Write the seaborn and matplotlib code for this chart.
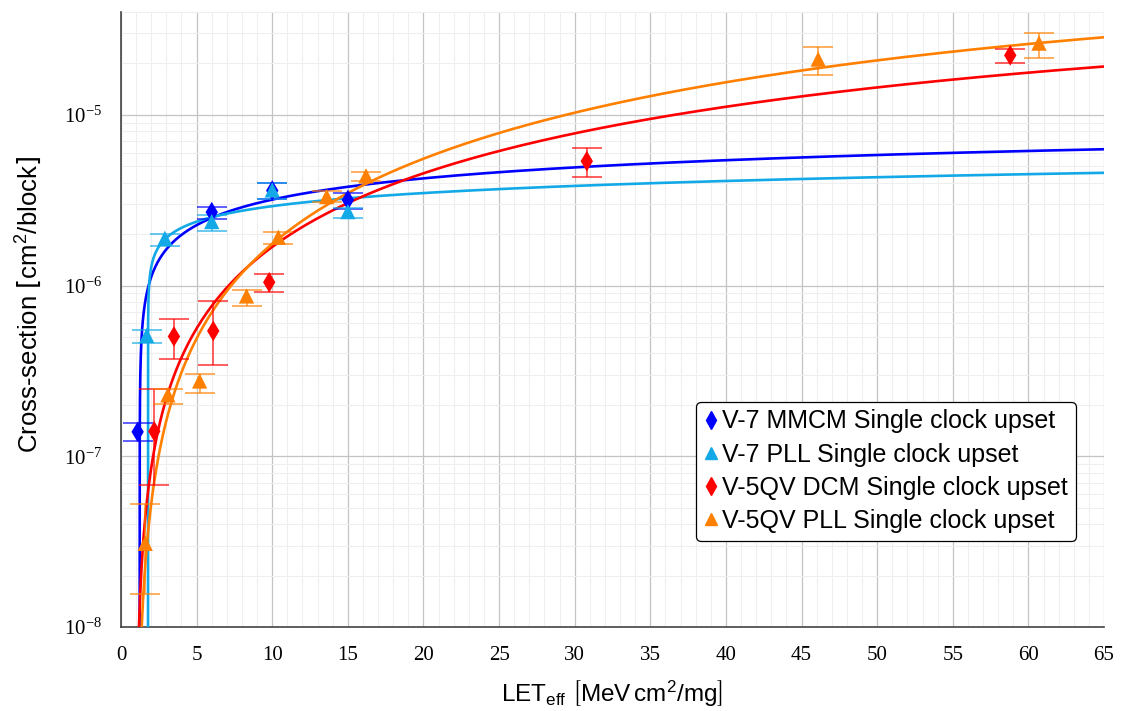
import numpy as np
import pandas as pd
import matplotlib
matplotlib.use("Agg")
import matplotlib.pyplot as plt
import seaborn as sns
from matplotlib.ticker import MultipleLocator, LogLocator, NullFormatter
from matplotlib.lines import Line2D

# ---- measured points (LET, cross-section, lower, upper error) ----
mmcm_x = [1.1, 6.0, 10.0, 15.0]
mmcm_y = [1.39e-7, 2.69e-6, 3.6e-6, 3.17e-6]
mmcm_lo = [1.23e-7, 2.45e-6, 3.2e-6, 2.81e-6]
mmcm_hi = [1.57e-7, 2.90e-6, 4.0e-6, 3.5e-6]

v7pll_x = [1.7, 2.9, 6.0, 10.0, 15.0]
v7pll_y = [5.1e-7, 1.89e-6, 2.37e-6, 3.63e-6, 2.71e-6]
v7pll_lo = [4.63e-7, 1.71e-6, 2.09e-6, 3.2e-6, 2.48e-6]
v7pll_hi = [5.5e-7, 2.0e-6, 2.59e-6, 4.0e-6, 2.84e-6]

dcm_x = [2.2, 3.5, 6.1, 9.8, 30.8, 58.8]
dcm_y = [1.4e-7, 5.03e-7, 5.42e-7, 1.045e-6, 5.35e-6, 2.23e-5]
dcm_lo = [6.8e-8, 3.73e-7, 3.43e-7, 9.2e-7, 4.31e-6, 2.02e-5]
dcm_hi = [2.48e-7, 6.37e-7, 8.1e-7, 1.17e-6, 6.42e-6, 2.44e-5]

v5pll_x = [1.6, 3.1, 5.2, 8.3, 10.4, 13.6, 16.2, 46.1, 60.7]
v5pll_y = [3.09e-8, 2.29e-7, 2.76e-7, 8.69e-7, 1.92e-6, 3.32e-6, 4.39e-6, 2.12e-5, 2.63e-5]
v5pll_lo = [1.56e-8, 2.03e-7, 2.36e-7, 7.6e-7, 1.75e-6, 3.1e-6, 4.1e-6, 1.70e-5, 2.14e-5]
v5pll_hi = [5.28e-8, 2.48e-7, 3.05e-7, 9.4e-7, 2.07e-6, 3.58e-6, 4.65e-6, 2.49e-5, 3.03e-5]

# ---- Weibull fit parameters per series: threshold L0, width W, shape s, saturation ----
fit_L0 = [1.2325, 1.7857, 0.972, 1.032]
fit_W = [63.096, 1.0e6, 91.2, 79.43]
fit_s = [0.48, 0.23, 1.38, 1.58]
fit_sat = [9.9115e-6, 4.459e-5, 4.181e-5, 5.595e-5]

labels = ["V-7 MMCM Single clock upset", "V-7 PLL Single clock upset",
          "V-5QV DCM Single clock upset", "V-5QV PLL Single clock upset"]

sns.set_theme(style="white")
plt.rcParams["font.family"] = ["Liberation Sans", "DejaVu Sans"]
plt.rcParams["mathtext.fontset"] = "dejavusans"
plt.rcParams["text.color"] = "black"
plt.rcParams["axes.labelcolor"] = "black"

fig = plt.figure(figsize=(11.21, 7.11), dpi=100)
ax = fig.add_axes([121 / 1121, 1 - 627 / 711, 983 / 1121, 615 / 711])
ax.set_yscale("log")
ax.set_xlim(0, 65)
ax.set_ylim(1e-8, 4e-5)

colors = ["#0000ff", "#12a9e6", "#ff0000", "#ff8000"]
markers = ["d", "^", "d", "^"]
msizes = [10.5, 11, 10.5, 11]
series = [(mmcm_x, mmcm_y, mmcm_lo, mmcm_hi), (v7pll_x, v7pll_y, v7pll_lo, v7pll_hi),
          (dcm_x, dcm_y, dcm_lo, dcm_hi), (v5pll_x, v5pll_y, v5pll_lo, v5pll_hi)]

for i, ((x, y, lo, hi), c, mk, ms) in enumerate(zip(series, colors, markers, msizes)):
    x = np.array(x); y = np.array(y)
    L0, W, s, S = fit_L0[i], fit_W[i], fit_s[i], fit_sat[i]
    L = np.concatenate([L0 + np.geomspace(1e-12, 2, 1500), np.linspace(L0 + 2, 65, 600)])
    sig = S * (-np.expm1(-((L - L0) / W) ** s))
    sns.lineplot(x=L, y=sig, color=c, lw=1.9, ax=ax, estimator=None, sort=False, zorder=4)
    ax.errorbar(x, y, yerr=[y - np.array(lo), np.array(hi) - y], fmt="none",
                ecolor=c, elinewidth=1.1, capsize=11, capthick=1.1, alpha=0.8, zorder=5)
    df = pd.DataFrame({"L": x, "sigma": y})
    sns.scatterplot(data=df, x="L", y="sigma", marker=mk, s=ms ** 2, color=c,
                    edgecolor="none", ax=ax, zorder=6, legend=False)

ax.xaxis.set_major_locator(MultipleLocator(5))
ax.xaxis.set_minor_locator(MultipleLocator(1))
ax.yaxis.set_major_locator(LogLocator(base=10, numticks=20))
ax.yaxis.set_minor_locator(LogLocator(base=10, subs=np.arange(2, 10), numticks=20))
ax.yaxis.set_minor_formatter(NullFormatter())
ax.tick_params(which="major", direction="out", length=7.5, width=1, color="#444444",
               labelsize=15, labelfontfamily="Liberation Serif", pad=6, labelcolor="black")
ax.tick_params(which="minor", direction="out", length=5, width=0.8, color="#444444")
ax.grid(True, which="major", color="#c4c4c4", lw=0.9)
ax.grid(True, which="minor", color="#efefef", lw=0.8)
ax.set_axisbelow(True)
for sp in ["top", "right"]:
    ax.spines[sp].set_visible(False)
for sp in ["left", "bottom"]:
    ax.spines[sp].set_color("#444444")
    ax.spines[sp].set_linewidth(1.2)

ax.set_xlabel(r"LET$_{\mathdefault{eff}}$ $\left[\mathdefault{MeV\,cm^{2}/mg}\right]$",
              fontsize=17.5, labelpad=10)
ax.set_ylabel(r"Cross-section $\left[\mathdefault{cm^{2}/block}\right]$", fontsize=18.5)
ax.yaxis.set_label_coords(-0.078, 0.525)

handles = [Line2D([], [], marker=m, color=c, ls="none", markersize=9) for m, c in zip(markers, colors)]
leg = ax.legend(handles, labels, loc="upper left", bbox_to_anchor=(0.585, 0.366), borderaxespad=0,
                fontsize=18, frameon=True, fancybox=True, framealpha=1, edgecolor="black",
                handlelength=0.6, handletextpad=0.15, labelspacing=0.37, borderpad=0.3)
leg.get_frame().set_linewidth(0.9)
leg.set_zorder(10)
for t in leg.get_texts():
    t.set_color("black")

fig.savefig("out.png", dpi=100)
